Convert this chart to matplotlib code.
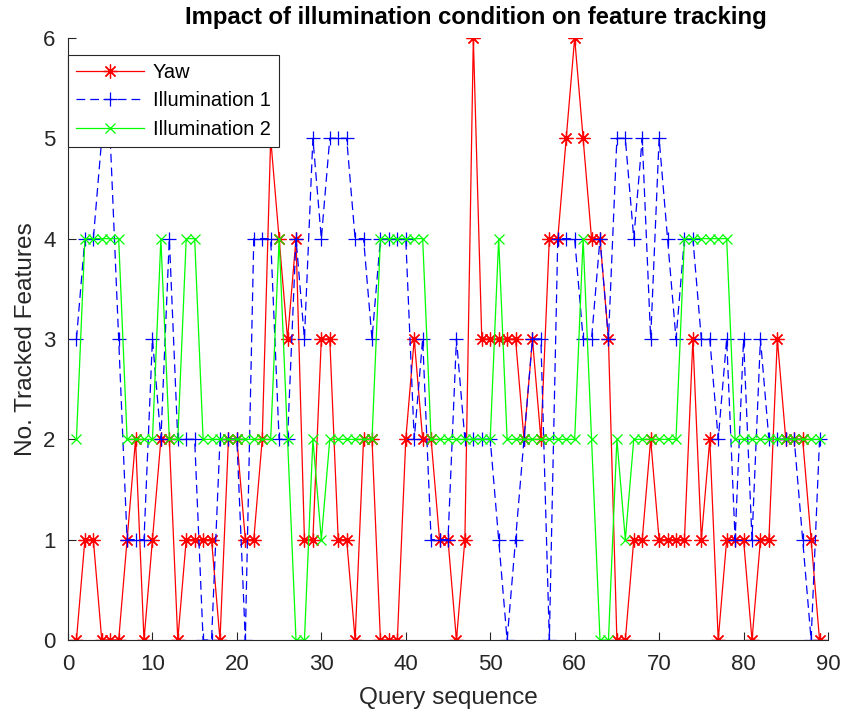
import numpy as np
import matplotlib
matplotlib.use("Agg")
import matplotlib.pyplot as plt

plt.rcParams['font.family'] = ['Liberation Sans', 'DejaVu Sans']

# Query index and tracked-feature counts
query = np.arange(1, 90)

yaw = [0, 1, 1, 0, 0, 0, 1, 2, 0, 1,
       2, 2, 0, 1, 1, 1, 1, 0, 2, 2,
       1, 1, 2, 5, 4, 3, 4, 1, 1, 3,
       3, 1, 1, 0, 2, 2, 0, 0, 0, 2,
       3, 2, 2, 1, 1, 0, 1, 6, 3, 3,
       3, 3, 3, 2, 3, 2, 4, 4, 5, 6,
       5, 4, 4, 3, 0, 0, 1, 1, 2, 1,
       1, 1, 1, 3, 1, 2, 0, 1, 1, 1,
       0, 1, 1, 3, 2, 2, 2, 1, 0]

illum1 = [3, 4, 4, 5, 5, 3, 1, 1, 1, 3,
          2, 4, 2, 2, 2, 0, 0, 2, 2, 2,
          0, 4, 4, 4, 2, 2, 4, 3, 5, 4,
          5, 5, 5, 4, 4, 3, 4, 4, 4, 4,
          2, 3, 1, 1, 1, 3, 2, 2, 2, 2,
          1, 0, 1, 2, 3, 3, 0, 4, 4, 4,
          3, 3, 4, 3, 5, 5, 4, 5, 3, 5,
          4, 3, 4, 4, 3, 3, 2, 3, 1, 3,
          1, 3, 2, 2, 2, 2, 1, 0, 2]

illum2 = [2, 4, 4, 4, 4, 4, 2, 2, 2, 2,
          4, 2, 2, 4, 4, 2, 2, 2, 2, 2,
          2, 2, 2, 2, 4, 2, 0, 0, 2, 1,
          2, 2, 2, 2, 2, 2, 4, 4, 4, 4,
          4, 4, 2, 2, 2, 2, 2, 2, 2, 2,
          4, 2, 2, 2, 2, 2, 2, 2, 2, 2,
          4, 2, 0, 0, 2, 1, 2, 2, 2, 2,
          2, 2, 4, 4, 4, 4, 4, 4, 2, 2,
          2, 2, 2, 2, 2, 2, 2, 2, 2]

axc = (0.15, 0.15, 0.15)
asterisk = (8, 2, 0)

fig = plt.figure(figsize=(8.45, 7.2), dpi=100)
ax = fig.add_axes([68 / 845, 1 - 640 / 720, 760 / 845, 602 / 720])

ax.plot(query, yaw, color='red', linestyle='-', linewidth=0.9,
        marker=asterisk, markersize=10, markeredgewidth=0.9, label='Yaw')
ax.plot(query, illum1, color='blue', linestyle=(0, (7, 4)), linewidth=0.9,
        marker='+', markersize=10, markeredgewidth=0.9, label='Illumination 1')
ax.plot(query, illum2, color=(0, 1, 0), linestyle='-', linewidth=0.9,
        marker='x', markersize=7.5, markeredgewidth=0.9, label='Illumination 2')

ax.set_xlim(0, 90)
ax.set_ylim(0, 6)
ax.set_xticks(np.arange(0, 91, 10))
ax.set_yticks(np.arange(0, 7, 1))

for s in ['top', 'right']:
    ax.spines[s].set_visible(False)
for s in ['left', 'bottom']:
    ax.spines[s].set_color(axc)
    ax.spines[s].set_linewidth(0.8)
ax.tick_params(direction='in', length=5.5, width=0.8, colors=axc,
               labelsize=16)
ax.tick_params(axis='x', pad=10)
ax.tick_params(axis='y', pad=9)

ax.set_xlabel('Query sequence', fontsize=17.6, color=axc, labelpad=9)
ax.set_ylabel('No. Tracked Features', fontsize=17.6, color=axc, labelpad=4)
ax.set_title('Impact of illumination condition on feature tracking',
             fontsize=17.2, fontweight='bold', x=0.537, pad=10)

leg = ax.legend(loc='upper left', bbox_to_anchor=(0.0, 0.972), fontsize=14.4,
                frameon=True, fancybox=False, framealpha=1,
                edgecolor=axc, handlelength=3.4, handletextpad=0.45,
                borderpad=0.4, labelspacing=0.48, borderaxespad=0)
leg.get_frame().set_linewidth(0.8)

fig.savefig('out.png', dpi=100)
